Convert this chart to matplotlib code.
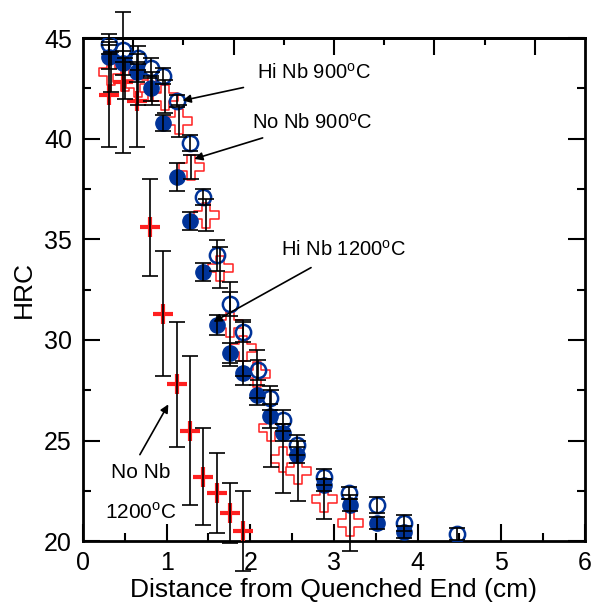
import numpy as np
import matplotlib
matplotlib.use("Agg")
import matplotlib.pyplot as plt
from matplotlib.path import Path as MPath

plt.rcParams["font.family"] = ["Liberation Sans", "DejaVu Sans"]
plt.rcParams["mathtext.fontset"] = "custom"
plt.rcParams["mathtext.rm"] = "Liberation Sans"

# Hi Nb 900C (open circles)
hi900_x = [0.31, 0.48, 0.66, 0.81, 0.96, 1.12, 1.28, 1.43, 1.60, 1.76, 1.91, 2.09, 2.23, 2.39, 2.56, 2.88, 3.18, 3.51, 3.84, 4.47]
hi900_y = [44.7, 44.4, 44.0, 43.5, 43.1, 41.9, 39.8, 37.1, 34.2, 31.8, 30.4, 28.5, 27.1, 26.0, 24.8, 23.2, 22.4, 21.8, 20.9, 20.35]
hi900_err = [0.5, 0.6, 0.6, 0.5, 0.4, 0.3, 0.4, 0.4, 0.75, 0.6, 0.5, 0.5, 0.6, 0.5, 0.5, 0.4, 0.3, 0.4, 0.4, 0.3]

# Hi Nb 1200C (filled circles)
hi1200_x = [0.31, 0.48, 0.65, 0.81, 0.96, 1.12, 1.28, 1.43, 1.60, 1.76, 1.91, 2.08, 2.23, 2.39, 2.56, 2.88, 3.19, 3.51, 3.84]
hi1200_y = [44.05, 43.75, 43.3, 42.5, 40.8, 38.1, 35.9, 33.4, 30.75, 29.35, 28.35, 27.25, 26.2, 25.4, 24.3, 22.8, 21.8, 20.9, 20.45]
hi1200_err = [0.6, 0.6, 0.5, 0.6, 0.4, 0.7, 0.45, 0.45, 0.5, 0.5, 0.6, 0.5, 0.6, 0.4, 0.4, 0.3, 0.3, 0.3, 0.3]

# No Nb 900C (hollow crosses)
no900_x = [0.34, 0.50, 0.66, 0.82, 0.98, 1.15, 1.29, 1.47, 1.64, 1.76, 1.91, 2.08, 2.25, 2.39, 2.57, 2.88, 3.19]
no900_y = [43.3, 43.0, 42.7, 42.5, 42.1, 40.9, 38.6, 36.2, 33.6, 30.8, 29.6, 28.3, 25.6, 24.1, 23.5, 22.1, 20.9]
no900_err = [1.0, 1.0, 1.0, 0.8, 0.8, 0.8, 0.6, 0.8, 1.0, 2.1, 1.4, 1.2, 1.9, 1.7, 1.5, 1.0, 1.4]

# No Nb 1200C (red plus)
no1200_x = [0.31, 0.48, 0.65, 0.80, 0.96, 1.12, 1.28, 1.43, 1.60, 1.76, 1.91]
no1200_y = [42.2, 42.8, 41.9, 35.6, 31.3, 27.8, 25.5, 23.2, 22.4, 21.4, 20.5]
no1200_err = [2.6, 3.5, 2.3, 2.4, 3.1, 3.1, 3.7, 2.4, 2.0, 1.5, 2.0]

blue = "#003399"
red = "#ff2020"

a = 0.33
cross = MPath([(-a, 1), (a, 1), (a, a), (1, a), (1, -a), (a, -a), (a, -1), (-a, -1),
               (-a, -a), (-1, -a), (-1, a), (-a, a), (-a, 1)], closed=True)

fig = plt.figure(figsize=(5.95, 6.06), dpi=100)
ax = fig.add_axes([0.1395, 0.107, 0.8435, 0.83])

eb = dict(fmt="none", ecolor="black", elinewidth=1.2, capsize=6, capthick=1.2, zorder=6, clip_on=False)

ax.plot(no900_x, no900_y, ls="none", marker=cross, ms=18, mfc="white", mec=red, mew=1.1, zorder=2)
ax.plot(hi900_x, hi900_y, ls="none", marker="o", ms=11, mfc="none", mec=blue, mew=1.8, zorder=3)
ax.plot(hi1200_x, hi1200_y, ls="none", marker="o", ms=11, mfc=blue, mec=blue, mew=1, zorder=4)
ax.plot(no1200_x, no1200_y, ls="none", marker="+", ms=14, mec=red, mew=3, zorder=5)

for xs, ys, es in [(no900_x, no900_y, no900_err), (hi900_x, hi900_y, hi900_err),
                   (hi1200_x, hi1200_y, hi1200_err), (no1200_x, no1200_y, no1200_err)]:
    ax.errorbar(xs, ys, yerr=es, **eb)

ax.set_xlim(0, 6)
ax.set_ylim(20, 45)
ax.set_xticks(np.arange(0, 7, 1))
ax.set_xticks(np.arange(0.5, 6, 1), minor=True)
ax.set_yticks(np.arange(20, 46, 5))
ax.set_yticks(np.arange(22.5, 45, 5), minor=True)
ax.tick_params(which="both", direction="in", width=1.5, labelsize=18)
ax.tick_params(axis="y", which="both", right=True, pad=8)
ax.tick_params(axis="x", which="both", pad=7)
ax.tick_params(which="major", length=12)
ax.tick_params(which="minor", length=6)

top = ax.secondary_xaxis("top")
top.set_xticks([0.6, 1.8, 3.0, 4.2, 5.4])
top.set_xticks([1.2, 2.4, 3.6, 4.8], minor=True)
top.tick_params(which="both", direction="in", width=1.5, labeltop=False)
top.tick_params(which="major", length=12)
top.tick_params(which="minor", length=5)
top.spines["top"].set_linewidth(2)

for s in ax.spines.values():
    s.set_linewidth(2)

ax.set_xlabel("Distance from Quenched End (cm)", fontsize=19, labelpad=2)
ax.set_ylabel("HRC", fontsize=19, labelpad=6)

deg = "$^{\\mathrm{o}}$"
arrow = dict(arrowstyle="-|>", color="black", lw=1.2, mutation_scale=12)
ax.annotate("Hi Nb 900" + deg + "C", xy=(1.19, 41.9), xytext=(2.08, 43.3), fontsize=14.5,
            va="center", zorder=10, arrowprops=dict(arrow, shrinkA=8, shrinkB=0))
ax.annotate("No Nb 900" + deg + "C", xy=(1.33, 39.0), xytext=(2.02, 40.8), fontsize=14.5,
            va="center", zorder=10, arrowprops=dict(arrow, shrinkA=6, shrinkB=0))
ax.annotate("Hi Nb 1200" + deg + "C", xy=(1.56, 30.9), xytext=(2.37, 34.5), fontsize=14.5,
            va="center", zorder=10, arrowprops=dict(arrow, shrinkA=8, shrinkB=0))
ax.annotate("", xy=(1.02, 26.8), xytext=(0.68, 24.3), zorder=10,
            arrowprops=dict(arrow, shrinkA=0, shrinkB=0))
ax.text(0.69, 23.4, "No Nb", fontsize=15, ha="center", va="center")
ax.text(0.69, 21.45, "1200" + deg + "C", fontsize=15, ha="center", va="center")

fig.savefig("out.png", dpi=100)
